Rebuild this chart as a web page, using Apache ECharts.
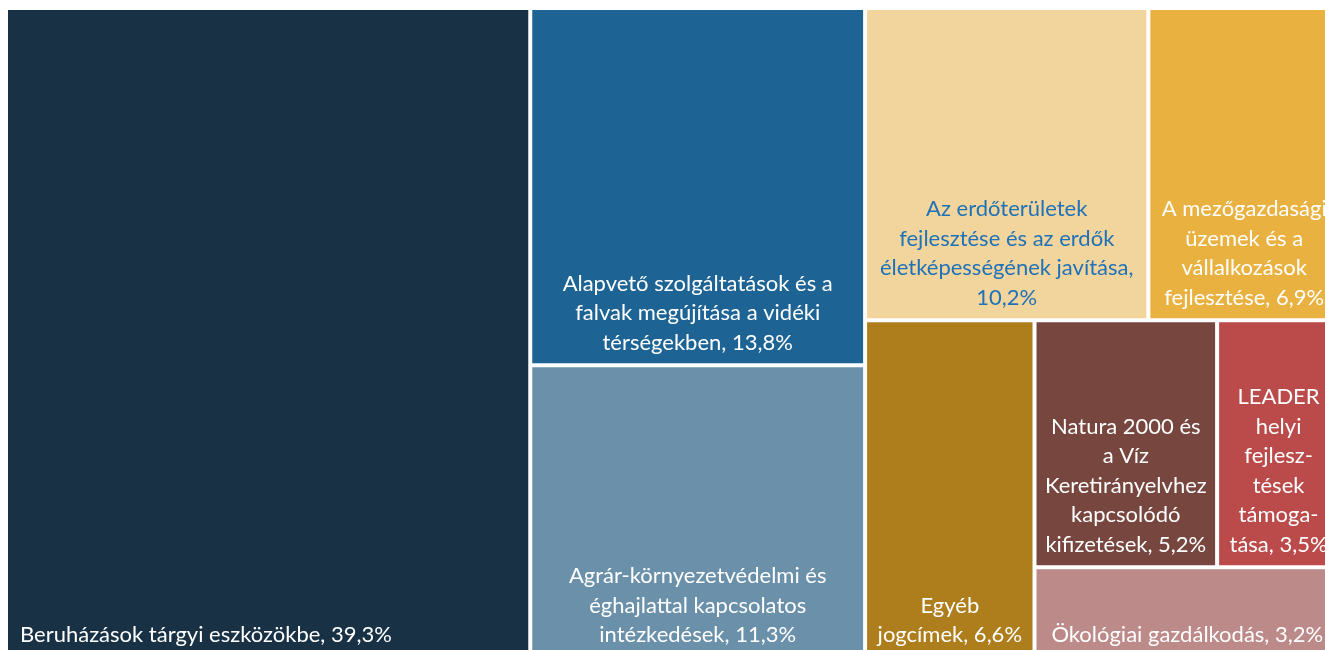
<!DOCTYPE html>
<html>
<head>
<meta charset="utf-8">
<script src="https://cdn.jsdelivr.net/npm/echarts@6/dist/echarts.min.js"></script>
<style>
    html, body {margin: 0; padding: 0; background: #fff;}
    #chart {width: 1325px; height: 650px;}
</style>
</head>
<body>
<div id="chart"></div>
<script>
// category names, "\n" marks where the original label wraps
const categories = [
    "Beruházások tárgyi eszközökbe",
    "Alapvető szolgáltatások és a\nfalvak megújítása a vidéki\ntérségekben",
    "Agrár-környezetvédelmi és\néghajlattal kapcsolatos\nintézkedések",
    "Az erdőterületek\nfejlesztése és az erdők\néletképességének javítása",
    "A mezőgazdasági\nüzemek és a\nvállalkozások\nfejlesztése",
    "Egyéb\njogcímek",
    "Natura 2000 és\na Víz\nKeretirányelvhez\nkapcsolódó\nkifizetések",
    "LEADER\nhelyi\nfejlesz-\ntések\ntámoga-\ntása",
    "Ökológiai gazdálkodás",
];
const values = [39.3, 13.8, 11.3, 10.2, 6.9, 6.6, 5.2, 3.5, 3.2];
const colors = [
    "#183144", "#1d6495", "#6b90aa", "#f2d49d", "#e9b13f",
    "#ae7d1c", "#77463f", "#bb4b4a", "#bb8a89",
];
// the value goes on its own line for this one
const valueOnNewLine = [false, false, false, true, false, false, false, false, false];

const fmt = (v) => v.toFixed(1).replace(".", ",") + "%";

const chart = echarts.init(document.getElementById("chart"));

let data = categories.map((name, i) => {
    let item = {
        name: name,
        value: values[i],
        itemStyle: {color: colors[i]},
        label: {},
    };
    if (i === 0) {
        item.label = {position: "insideBottomLeft", padding: [0, 0, 6, 12]};
    }
    if (i === 3) {
        item.label.color = "#1f72b8";
    }
    return item;
});

let option = {
    animation: false,
    series: [
        {
            type: "treemap",
            left: 8,
            top: 10,
            width: 1330,
            height: 646,
            squareRatio: 1,
            roam: false,
            nodeClick: false,
            breadcrumb: {show: false},
            data: data,
            label: {
                show: true,
                position: "insideBottom",
                padding: [0, 4, 6, 4],
                color: "#fff",
                fontFamily: "Lato",
                fontSize: 22,
                lineHeight: 29.5,
                overflow: "none",
                formatter: (p) => {
                    let i = categories.indexOf(p.name);
                    return p.name + "," + (valueOnNewLine[i] ? "\n" : " ") + fmt(p.value);
                },
            },
            levels: [
                {
                    itemStyle: {gapWidth: 4, borderWidth: 0, borderColor: "#fff"},
                },
            ],
        },
    ],
};
chart.setOption(option);
</script>
</body>
</html>
